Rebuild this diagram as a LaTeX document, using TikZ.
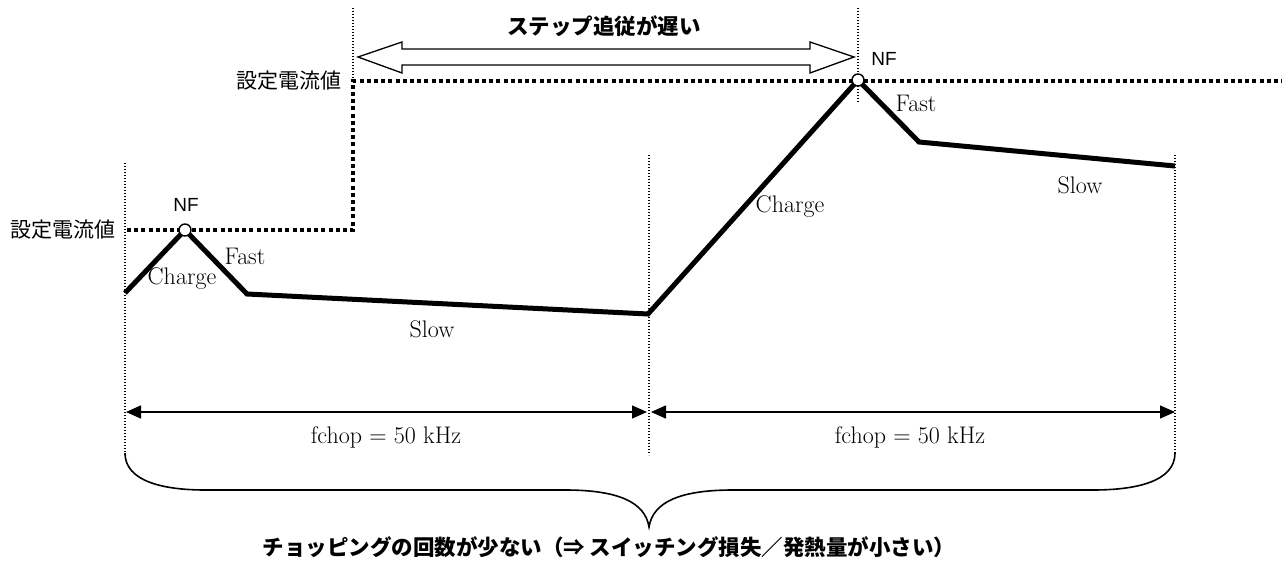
\documentclass[tikz,border=0pt]{standalone}
\usepackage{fontspec}
\newfontfamily\jp{Noto Sans CJK JP}
\newfontfamily\nffont{Liberation Sans}
\usetikzlibrary{arrows.meta}
\begin{document}
\begin{tikzpicture}[x=1pt,y=-1pt,
  thindot/.style={line width=1.1pt,dash pattern=on 1.4pt off 1.6pt},
  setdot/.style={line width=3.6pt,dash pattern=on 4pt off 3.2pt},
  wave/.style={line width=5pt,line join=miter},
  nfc/.style={circle,draw,fill=white,line width=1.4pt,minimum size=12pt,inner sep=0pt},
  serif/.style={font=\fontsize{24}{27}\selectfont,inner sep=0pt},
  jplabel/.style={font=\jp\fontsize{21}{24}\selectfont,inner sep=0pt},
  jpbold/.style={font=\jp\bfseries\fontsize{21.5}{24}\selectfont,inner sep=0pt},
  nflabel/.style={font=\nffont\fontsize{19}{22}\selectfont,inner sep=0pt},
  dimarrow/.style={line width=1.5pt,{Triangle[length=15pt,width=13pt]}-{Triangle[length=15pt,width=13pt]}},
  hollow/.style={draw,line width=1.3pt,fill=white,line join=miter}]
\useasboundingbox (0,0) rectangle (1282,564);
% coordinates
\coordinate (a0) at (125,293);
\coordinate (nf1) at (185,230);
\coordinate (a2) at (247,294);
\coordinate (a3) at (648,314);
\coordinate (nf2) at (858,80);
\coordinate (a5) at (919,142);
\coordinate (a6) at (1175,166);
% thin dotted verticals
\coordinate (v1t) at (125,163); \coordinate (v1b) at (125,456);
\coordinate (v2t) at (353,8);   \coordinate (v2b) at (353,80);
\coordinate (v3t) at (858,8);   \coordinate (v3b) at (858,102);
\coordinate (v4t) at (649,155); \coordinate (v4b) at (649,455);
\coordinate (v5t) at (1175,155);\coordinate (v5b) at (1175,454);
\draw[thindot] (v1t) -- (v1b);
\draw[thindot] (v2t) -- (v2b);
\draw[thindot] (v3t) -- (v3b);
\draw[thindot] (v4t) -- (v4b);
\draw[thindot] (v5t) -- (v5b);
% set current level
\coordinate (s0) at (127,230);
\coordinate (s1) at (353,230);
\coordinate (s2) at (353,81);
\coordinate (s3) at (1282,81);
\draw[setdot] (s0) -- (s1) -- (s2) -- (s3);
% waveform
\draw[wave] (a0) -- (nf1) -- (a2) -- (a3) -- (nf2) -- (a5) -- (a6);
\node[nfc] (c1) at (nf1) {};
\node[nfc] (c2) at (nf2) {};
% labels
\node[jplabel,anchor=east] (set1) at (342,81) {設定電流値};
\node[jplabel,anchor=east] (set2) at (116,230) {設定電流値};
\node[nflabel] (nft1) at (186,205) {NF};
\node[nflabel] (nft2) at (884,59) {NF};
\node[serif] (ch1) at (182,279) {Charge};
\node[serif] (fa1) at (245,256) {Fast};
\node[serif] (sl1) at (432,329) {Slow};
\node[serif] (ch2) at (790,207) {Charge};
\node[serif] (fa2) at (916,103) {Fast};
\node[serif] (sl2) at (1080,185) {Slow};
% hollow double arrow
\draw[hollow] (358,57) -- (402,42) -- (402,49) -- (810,49) -- (810,42) -- (854,57)
  -- (810,73) -- (810,65) -- (402,65) -- (402,73) -- cycle;
\node[jpbold] (step) at (604,26) {ステップ追従が遅い};
% period arrows
\coordinate (d1) at (126,412);
\coordinate (d2) at (647,412);
\coordinate (d3) at (651,412);
\coordinate (d4) at (1175,412);
\draw[dimarrow] (d1) -- (d2);
\draw[dimarrow] (d3) -- (d4);
\node[serif] (f1) at (386,437) {fchop = 50 kHz};
\node[serif] (f2) at (910,437) {fchop = 50 kHz};
% brace
\draw[line width=1.6pt] (125,453) .. controls (125,482) and (165,490) .. (205,490)
  -- (565,490) .. controls (618,490) and (645,502) .. (649,527)
  .. controls (653,502) and (680,490) .. (733,490)
  -- (1093,490) .. controls (1135,490) and (1175,482) .. (1175,453);
\node[jpbold] (note) at (609,547) {チョッピングの回数が少ない（⇒ スイッチング損失／発熱量が小さい）};
\end{tikzpicture}
\end{document}
